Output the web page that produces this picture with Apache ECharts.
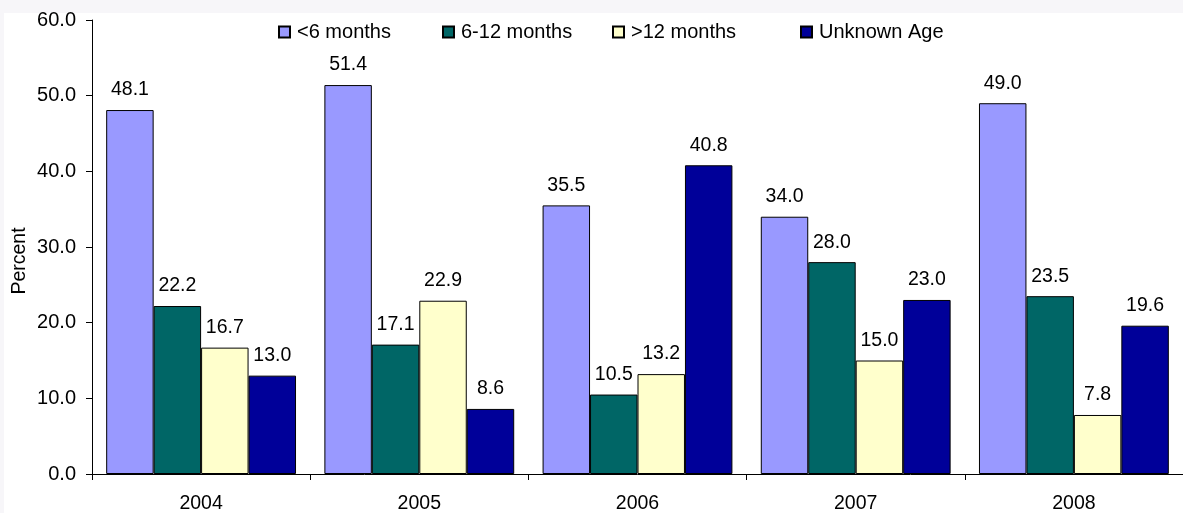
<!DOCTYPE html>
<html>
<head>
<meta charset="utf-8">
<script src="https://cdn.jsdelivr.net/npm/echarts@6/dist/echarts.min.js"></script>
<style>
  html, body { margin: 0; padding: 0; background: #ffffff; }
  #chart { width: 1183px; height: 513px; }
</style>
</head>
<body>
<div id="chart"></div>
<script>
// Age at diagnosis, share of cases per year (percent)
const years = ['2004', '2005', '2006', '2007', '2008'];
const seriesNames = ['<6 months', '6-12 months', '>12 months', 'Unknown Age'];
const under6 = [48.1, 51.4, 35.5, 34.0, 49.0];
const from6to12 = [22.2, 17.1, 10.5, 28.0, 23.5];
const over12 = [16.7, 22.9, 13.2, 15.0, 7.8];
const unknownAge = [13.0, 8.6, 40.8, 23.0, 19.6];
const seriesColors = ['#9999FF', '#006666', '#FFFFCC', '#000099'];

const fontFamily = '"Liberation Sans", Arial, sans-serif';
const valueLists = [under6, from6to12, over12, unknownAge];

// each legend entry sits in its own fixed slot along the top
const legendSlots = [278, 442, 612, 800];

const chart = echarts.init(document.getElementById('chart'), null, { renderer: 'canvas' });

chart.setOption({
  animation: false,
  backgroundColor: '#ffffff',
  textStyle: { fontFamily: fontFamily, color: '#000' },
  graphic: [
    { type: 'rect', left: 0, top: 0, z: -1, shape: { width: 1183, height: 13 }, style: { fill: '#f7f6f9' } },
    { type: 'rect', left: 0, top: 0, z: -1, shape: { width: 4, height: 513 }, style: { fill: '#f7f6f9' } }
  ],
  legend: seriesNames.map((name, i) => ({
    top: 22,
    left: legendSlots[i],
    padding: 0,
    itemWidth: 11,
    itemHeight: 11,
    icon: 'rect',
    textStyle: { fontSize: 20, fontFamily: fontFamily, color: '#000', padding: [0, 0, 0, 2] },
    data: [name]
  })),
  grid: { left: 92, right: 0, top: 20, bottom: 39, containLabel: false, outerBoundsMode: 'none' },
  xAxis: {
    type: 'category',
    data: years,
    axisLine: { lineStyle: { color: '#000', width: 1 } },
    axisTick: { show: true, length: 6, alignWithLabel: false, lineStyle: { color: '#000' } },
    axisLabel: { fontSize: 19.5, color: '#000', margin: 20, fontFamily: fontFamily }
  },
  yAxis: {
    type: 'value',
    min: 0,
    max: 60,
    interval: 10,
    name: 'Percent',
    nameLocation: 'middle',
    nameGap: 62,
    nameMoveOverlap: false,
    nameTextStyle: { fontSize: 19.5, color: '#000', fontFamily: fontFamily, padding: [0, 28, 0, 0] },
    axisLine: { show: true, lineStyle: { color: '#000', width: 1 } },
    axisTick: { show: true, length: 6, lineStyle: { color: '#000' } },
    splitLine: { show: false },
    axisLabel: {
      fontSize: 20, color: '#000', margin: 16, fontFamily: fontFamily,
      formatter: v => v.toFixed(1)
    }
  },
  series: seriesNames.map((name, i) => ({
    name: name,
    type: 'bar',
    data: valueLists[i],
    barGap: '0%',
    barCategoryGap: '13%',
    itemStyle: { color: seriesColors[i], borderColor: '#000', borderWidth: 1 },
    label: {
      show: true,
      position: 'top',
      distance: 10,
      fontSize: 19.5,
      color: '#000',
      fontFamily: fontFamily,
      formatter: p => p.value.toFixed(1)
    }
  }))
});
</script>
</body>
</html>
